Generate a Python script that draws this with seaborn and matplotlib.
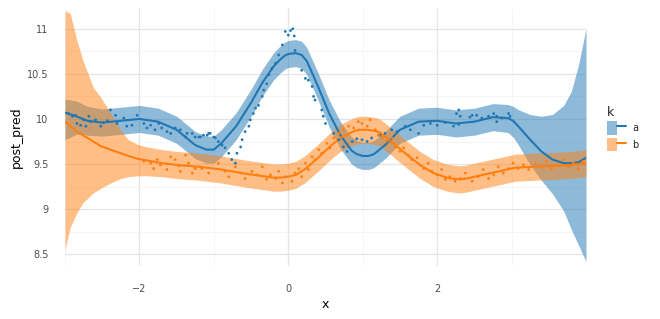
import numpy as np
import pandas as pd
import matplotlib
matplotlib.use("Agg")
import matplotlib.pyplot as plt
from matplotlib.patches import Patch
from matplotlib.lines import Line2D
from matplotlib.legend_handler import HandlerTuple
import seaborn as sns

# ---------------- data ----------------
groups = ["a", "b"]
colors = {"a": "#1f77b4", "b": "#ff7f0e"}

# group a: posterior mean and band
x_a = [-3.0, -2.85, -2.7, -2.5, -2.25, -2.0, -1.75, -1.5, -1.25, -1.1,
       -1.0, -0.9, -0.7, -0.5, -0.35, -0.2, -0.12, -0.05, 0.0, 0.1,
       0.18, 0.25, 0.4, 0.55, 0.7, 0.85, 0.92, 1.0, 1.08, 1.15,
       1.3, 1.5, 1.75, 2.0, 2.25, 2.5, 2.75, 2.95, 3.02, 3.1,
       3.25, 3.4, 3.55, 3.7, 3.8, 3.9, 4.0]
mean_a = [10.07, 10.03, 9.98, 9.96, 9.98, 10.00, 9.97, 9.88, 9.71, 9.66,
          9.66, 9.73, 9.92, 10.18, 10.40, 10.58, 10.65, 10.70, 10.72, 10.73,
          10.71, 10.64, 10.36, 10.06, 9.82, 9.65, 9.61, 9.59, 9.59, 9.61,
          9.71, 9.88, 9.97, 9.98, 9.95, 9.97, 10.02, 10.01, 9.98, 9.91,
          9.77, 9.64, 9.55, 9.51, 9.51, 9.52, 9.57]
hi_a = [10.22, 10.20, 10.14, 10.11, 10.13, 10.15, 10.12, 10.03, 9.86, 9.81,
        9.81, 9.88, 10.07, 10.33, 10.55, 10.73, 10.80, 10.85, 10.87, 10.88,
        10.86, 10.79, 10.51, 10.21, 9.97, 9.80, 9.76, 9.74, 9.74, 9.76,
        9.86, 10.03, 10.12, 10.13, 10.10, 10.12, 10.17, 10.16, 10.14, 10.10,
        10.05, 10.03, 10.05, 10.15, 10.30, 10.60, 11.00]
lo_a = [9.77, 9.83, 9.82, 9.81, 9.83, 9.85, 9.82, 9.73, 9.56, 9.51,
        9.51, 9.58, 9.77, 10.03, 10.25, 10.43, 10.50, 10.55, 10.57, 10.58,
        10.56, 10.49, 10.21, 9.91, 9.67, 9.50, 9.46, 9.44, 9.44, 9.46,
        9.56, 9.73, 9.82, 9.83, 9.80, 9.82, 9.87, 9.85, 9.80, 9.70,
        9.49, 9.32, 9.17, 8.98, 8.78, 8.60, 8.42]

# group b: posterior mean and band
x_b = [-3.0, -2.93, -2.84, -2.76, -2.62, -2.52, -2.39, -2.25, -2.15, -2.03,
       -1.9, -1.7, -1.5, -1.2, -0.9, -0.55, -0.2, -0.1, 0.0, 0.1,
       0.22, 0.4, 0.58, 0.7, 0.87, 0.95, 1.05, 1.15, 1.23, 1.41,
       1.6, 1.77, 1.95, 2.13, 2.2, 2.3, 2.4, 2.5, 2.78, 3.05,
       3.3, 3.58, 3.8, 4.0]
mean_b = [9.97, 9.92, 9.86, 9.82, 9.75, 9.70, 9.66, 9.62, 9.59, 9.56,
          9.54, 9.51, 9.49, 9.47, 9.44, 9.39, 9.35, 9.35, 9.36, 9.38,
          9.44, 9.57, 9.71, 9.79, 9.86, 9.88, 9.88, 9.87, 9.85, 9.73,
          9.60, 9.49, 9.40, 9.35, 9.34, 9.33, 9.34, 9.36, 9.41, 9.46,
          9.47, 9.48, 9.49, 9.51]
hi_b = [11.20, 11.17, 10.87, 10.65, 10.35, 10.24, 10.07, 9.88, 9.77, 9.72,
        9.69, 9.66, 9.64, 9.62, 9.59, 9.54, 9.50, 9.50, 9.51, 9.53,
        9.59, 9.72, 9.86, 9.94, 10.01, 10.03, 10.03, 10.02, 10.00, 9.88,
        9.75, 9.64, 9.55, 9.50, 9.49, 9.48, 9.49, 9.51, 9.56, 9.61,
        9.62, 9.63, 9.64, 9.66]
lo_b = [8.55, 8.80, 8.96, 9.07, 9.18, 9.23, 9.29, 9.34, 9.36, 9.37,
        9.37, 9.36, 9.34, 9.32, 9.29, 9.24, 9.20, 9.20, 9.21, 9.23,
        9.29, 9.42, 9.56, 9.64, 9.71, 9.73, 9.73, 9.72, 9.70, 9.58,
        9.45, 9.34, 9.25, 9.20, 9.19, 9.18, 9.19, 9.21, 9.26, 9.31,
        9.32, 9.33, 9.34, 9.36]

# observed points, group a
obs_x_a = [-2.95, -2.90, -2.86, -2.84, -2.79, -2.75, -2.72, -2.68, -2.66, -2.59, -2.52, -2.48,
           -2.43, -2.39, -2.32, -2.30, -2.21, -2.17, -2.10, -2.03, -1.94, -1.90, -1.85, -1.79,
           -1.74, -1.70, -1.63, -1.58, -1.52, -1.45, -1.38, -1.36, -1.29, -1.25, -1.20, -1.14,
           -1.07, -1.00, -1.18, -1.09, -1.05, -0.98, -0.94, -0.89, -0.85, -0.80, -0.76, -0.71,
           -0.69, -0.64, -0.62, -0.58, -0.53, -0.51, -0.47, -0.44, -0.40, -0.35, -0.33, -0.29,
           -0.26, -0.22, -0.17, -0.13, -0.08, -0.04, 0.00, 0.03, 0.06, 0.08, 0.09, 0.18, 0.23,
           0.27, 0.32, 0.34, 0.36, 0.45, 0.47, 0.50, 0.61, 0.68, 0.74, 0.79, 0.86, 0.92, 0.99,
           1.06, 1.12, 1.23, 1.30, 1.39, 1.46, 1.57, 1.64, 1.75, 1.82, 1.91, 2.00, 2.11, 2.22,
           2.29, 2.26, 2.31, 2.44, 2.53, 2.60, 2.69, 2.76, 2.80, 2.87, 2.96, 2.98, 2.29, 2.47,
           2.80]
obs_y_a = [10.06, 10.03, 10.04, 9.95, 9.93, 9.99, 9.92, 10.03, 9.97, 9.99, 9.92, 9.96,
           9.98, 10.10, 10.04, 9.95, 10.01, 9.92, 9.93, 10.04, 9.95, 9.90, 9.93, 9.88,
           9.95, 9.90, 9.86, 9.84, 9.90, 9.88, 9.80, 9.84, 9.84, 9.80, 9.80, 9.82,
           9.84, 9.80, 9.80, 9.82, 9.84, 9.79, 9.75, 9.71, 9.68, 9.62, 9.55, 9.51,
           9.62, 9.69, 9.77, 9.86, 9.92, 9.99, 10.06, 10.12, 10.15, 10.25, 10.32, 10.39,
           10.49, 10.56, 10.62, 10.71, 10.82, 10.97, 10.93, 10.98, 11.00, 10.92, 10.76, 10.54, 10.45,
           10.43, 10.36, 10.25, 10.21, 10.10, 10.03, 9.95, 9.84, 9.77, 9.69, 9.64, 9.75, 9.78, 9.77,
           9.75, 9.79, 9.82, 9.84, 9.88, 9.86, 9.92, 9.88, 9.84, 9.93, 9.95, 9.93, 9.96, 9.92,
           9.94, 10.06, 10.03, 10.02, 10.04, 10.01, 10.03, 10.06, 9.97, 10.01, 10.06, 10.03, 10.10, 10.04,
           10.03]

# observed points, group b
obs_x_b = [-1.94, -1.85, -1.81, -1.76, -1.72, -1.63, -1.58, -1.52, -1.47, -1.45, -1.38, -1.34,
           -1.29, -1.25, -1.16, -1.07, -0.94, -0.85, -0.80, -0.71, -0.64, -0.58, -0.49, -0.42,
           -0.35, -0.29, -0.24, -0.17, -0.13, -0.08, -0.04, 0.05, 0.09, 0.14, 0.18, 0.23, 0.27,
           0.32, 0.36, 0.41, 0.45, 0.52, 0.56, 0.61, 0.68, 0.74, 0.81, 0.88, 0.94, 0.99, 1.06,
           1.10, 1.17, 1.21, 1.26, 1.32, 1.39, 1.44, 1.50, 1.55, 1.61, 1.66, 1.73, 1.77, 1.82,
           1.88, 1.93, 2.00, 2.06, 2.11, 2.17, 2.24, 2.31, 2.38, 2.47, 2.55, 2.62, 2.69, 2.76,
           2.82, 2.89, 2.96, 3.02, 3.09, 3.16, 3.23, 3.32, 3.38, 3.47, 3.54, 3.63, 3.70, 3.76,
           3.83, 3.90, 3.96]
obs_y_b = [9.53, 9.51, 9.45, 9.55, 9.49, 9.44, 9.58, 9.55, 9.48, 9.42, 9.60, 9.51,
           9.40, 9.45, 9.45, 9.40, 9.51, 9.42, 9.36, 9.47, 9.40, 9.34, 9.42, 9.38,
           9.47, 9.33, 9.38, 9.34, 9.42, 9.29, 9.36, 9.31, 9.40, 9.45, 9.36, 9.51, 9.44,
           9.58, 9.55, 9.66, 9.62, 9.73, 9.68, 9.79, 9.84, 9.88, 9.92, 9.90, 9.97, 9.95, 9.92,
           9.99, 9.88, 9.82, 9.79, 9.75, 9.79, 9.69, 9.64, 9.68, 9.60, 9.55, 9.57, 9.49, 9.45,
           9.51, 9.42, 9.38, 9.44, 9.33, 9.36, 9.31, 9.34, 9.40, 9.31, 9.36, 9.44, 9.34, 9.38,
           9.47, 9.40, 9.45, 9.51, 9.45, 9.49, 9.44, 9.51, 9.47, 9.53, 9.45, 9.49, 9.55, 9.47,
           9.51, 9.45, 9.53]

y_ticks = [8.5, 9.0, 9.5, 10.0, 10.5, 11.0]
y_tick_labels = ["8.5", "9", "9.5", "10", "10.5", "11"]
x_ticks = [-2, 0, 2]
x_tick_labels = ["\u22122", "0", "2"]

# ---------------- frames ----------------
df_line = pd.DataFrame({
    "x": x_a + x_b,
    "post_pred": mean_a + mean_b,
    "k": ["a"] * len(x_a) + ["b"] * len(x_b),
})
df_pts = pd.DataFrame({
    "x": obs_x_a + obs_x_b,
    "post_pred": obs_y_a + obs_y_b,
    "k": ["a"] * len(obs_x_a) + ["b"] * len(obs_x_b),
})
bands = {"a": (x_a, lo_a, hi_a), "b": (x_b, lo_b, hi_b)}

# ---------------- plot ----------------
sns.set_theme(style="white")
plt.rcParams["font.family"] = ["DejaVu Sans"]

fig = plt.figure(figsize=(6.6, 3.19), dpi=100)
ax = fig.add_axes([65 / 660, 1 - 266 / 319, (586 - 65) / 660, (266 - 8) / 319])

for g in groups:
    bx, blo, bhi = bands[g]
    ax.fill_between(bx, blo, bhi, color=colors[g], alpha=0.5, linewidth=0, zorder=2)

sns.lineplot(data=df_line, x="x", y="post_pred", hue="k", palette=colors,
             estimator=None, sort=True, linewidth=1.5, legend=False, ax=ax, zorder=3)
sns.scatterplot(data=df_pts, x="x", y="post_pred", hue="k", palette=colors,
                s=4, linewidth=0, marker="o", legend=False, ax=ax, zorder=4)

ax.set_xlim(-3, 4)
ax.set_ylim(8.37, 11.23)
ax.set_xticks(x_ticks)
ax.set_xticklabels(x_tick_labels)
ax.set_yticks(y_ticks)
ax.set_yticklabels(y_tick_labels)
ax.set_xticks([-3, -1, 1, 3], minor=True)
ax.set_yticks([8.75, 9.25, 9.75, 10.25, 10.75], minor=True)
ax.grid(True, which="major", color="#E5E5E5", linewidth=0.9, zorder=0)
ax.grid(True, which="minor", color="#F2F2F2", linewidth=0.5, zorder=0)
ax.set_axisbelow(True)
for s in ax.spines.values():
    s.set_visible(False)
ax.tick_params(axis="both", which="both", length=0, labelsize=7, colors="#4D4D4D")
ax.tick_params(axis="x", pad=13)
ax.tick_params(axis="y", pad=12)

ax.set_xlabel("x", fontsize=9, color="black")
ax.set_ylabel("post_pred", fontsize=9, color="black")
ax.xaxis.set_label_coords(0.5, (266 - 305) / 258)
ax.xaxis.label.set_verticalalignment("center")
ax.yaxis.set_label_coords((16 - 65) / 521, 0.5)
ax.yaxis.label.set_verticalalignment("center")

handles = [(Patch(facecolor=colors[g], alpha=0.5, linewidth=0),
            Line2D([0], [0], color=colors[g], linewidth=1.5)) for g in groups]
leg = fig.legend(handles, groups, title="k", loc="upper left",
                 bbox_to_anchor=(607 / 660, 1 - 106 / 319),
                 handler_map={tuple: HandlerTuple(ndivide=None)},
                 frameon=False, fontsize=7, title_fontsize=9,
                 handlelength=2.0, handleheight=1.8, labelspacing=0.25,
                 handletextpad=0.6, borderpad=0, borderaxespad=0)
leg._legend_box.align = "left"

fig.savefig("out.png", dpi=100)
